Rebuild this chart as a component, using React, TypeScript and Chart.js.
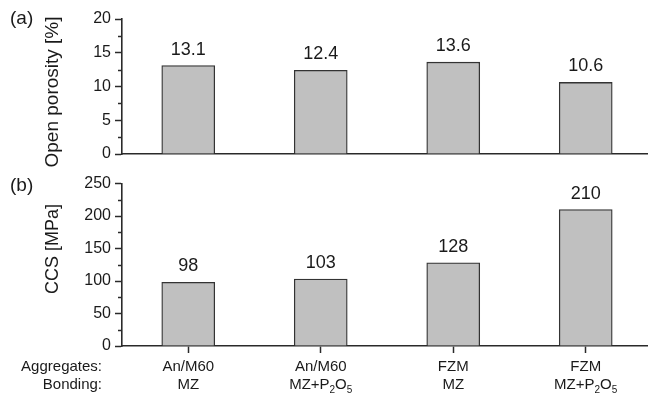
import React, { useEffect, useRef } from 'react';
import { Chart, registerables } from 'chart.js';

Chart.register(...registerables);

// ---- data ----
const aggregates = ['An/M60', 'An/M60', 'FZM', 'FZM'];
const bondings = ['MZ', 'MZ+P_2O_5', 'MZ', 'MZ+P_2O_5'];
const rowHeaders = ['Aggregates:', 'Bonding:'];
const porosity = [13.1, 12.4, 13.6, 10.6];
const ccs = [98, 103, 128, 210];
const porosityTicks = [0, 5, 10, 15, 20];
const ccsTicks = [0, 50, 100, 150, 200, 250];
const porosityTitle = 'Open porosity [%]';
const ccsTitle = 'CCS [MPa]';
const panelA = '(a)';
const panelB = '(b)';

const FONT = '"Liberation Sans", Arial, sans-serif';
const INK = '#1a1a1a';
const AXIS = '#2a2a2a';
const BAR_FILL = '#c0c0c0';
const BAR_EDGE = '#333333';

function minors(ticks: number[]) {
  const out: number[] = [];
  for (let i = 0; i < ticks.length - 1; i++) out.push((ticks[i] + ticks[i + 1]) / 2);
  return out;
}

function drawRich(ctx: CanvasRenderingContext2D, text: string, cx: number, baseline: number) {
  const segs: { t: string; sub: boolean }[] = [];
  const re = /_(.)/g;
  let last = 0;
  let m: RegExpExecArray | null;
  while ((m = re.exec(text))) {
    if (m.index > last) segs.push({ t: text.slice(last, m.index), sub: false });
    segs.push({ t: m[1], sub: true });
    last = m.index + 2;
  }
  if (last < text.length) segs.push({ t: text.slice(last), sub: false });
  const normal = `15px ${FONT}`;
  const small = `10px ${FONT}`;
  let total = 0;
  for (const s of segs) {
    ctx.font = s.sub ? small : normal;
    total += ctx.measureText(s.t).width;
  }
  let x = cx - total / 2;
  ctx.textAlign = 'left';
  ctx.textBaseline = 'alphabetic';
  for (const s of segs) {
    ctx.font = s.sub ? small : normal;
    ctx.fillText(s.t, x, s.sub ? baseline + 4 : baseline);
    x += ctx.measureText(s.t).width;
  }
}

function makeDecor(opts: {
  id: string;
  minorTicks: number[];
  fmt: (v: number) => string;
  letter: string;
  letterY: number;
  title: string;
  titleY: number;
  titleSize: number;
  xLabels: boolean;
  offsetY: number;
}) {
  return {
    id: opts.id,
    afterDraw(chart: any) {
      const ctx: CanvasRenderingContext2D = chart.ctx;
      const ys = chart.scales.y;
      ctx.save();
      // minor ticks
      ctx.strokeStyle = AXIS;
      ctx.lineWidth = 1.5;
      for (const v of opts.minorTicks) {
        const py = Math.round(ys.getPixelForValue(v)) + 0.5;
        ctx.beginPath();
        ctx.moveTo(ys.right - 4, py);
        ctx.lineTo(ys.right, py);
        ctx.stroke();
      }
      // value labels
      ctx.fillStyle = INK;
      ctx.font = `18px ${FONT}`;
      ctx.textAlign = 'center';
      ctx.textBaseline = 'alphabetic';
      const meta = chart.getDatasetMeta(0);
      const values = chart.data.datasets[0].data;
      meta.data.forEach((bar: any, i: number) => {
        ctx.fillText(opts.fmt(values[i].y), bar.x, bar.y - 11);
      });
      // panel letter
      ctx.font = `19px ${FONT}`;
      ctx.textAlign = 'left';
      ctx.textBaseline = 'middle';
      ctx.fillText(opts.letter, 10, opts.letterY - opts.offsetY);
      // axis title
      ctx.save();
      ctx.translate(53, opts.titleY - opts.offsetY);
      ctx.rotate(-Math.PI / 2);
      ctx.textAlign = 'center';
      ctx.textBaseline = 'middle';
      ctx.font = `${opts.titleSize}px ${FONT}`;
      ctx.fillText(opts.title, 0, 0);
      ctx.restore();
      // x category labels
      if (opts.xLabels) {
        const xs = chart.scales.x;
        const b1 = 371 - opts.offsetY;
        const b2 = 389 - opts.offsetY;
        ctx.font = `15px ${FONT}`;
        ctx.textAlign = 'right';
        ctx.textBaseline = 'alphabetic';
        ctx.fillText(rowHeaders[0], 102, b1);
        ctx.fillText(rowHeaders[1], 102, b2);
        aggregates.forEach((a, i) => {
          const px = xs.getPixelForValue(i);
          ctx.font = `15px ${FONT}`;
          ctx.textAlign = 'center';
          ctx.fillText(a, px, b1);
          drawRich(ctx, bondings[i], px, b2);
        });
      }
      ctx.restore();
    },
  };
}

function buildConfig(
  values: number[],
  ticks: number[],
  xHeight: number,
  topPad: number,
  drawXTicks: boolean,
  plugin: any
): any {
  const step = (ticks[1] - ticks[0]) / 2;
  return {
    type: 'bar',
    data: {
      datasets: [
        {
          data: values.map((v, i) => ({ x: i, y: v })),
          backgroundColor: BAR_FILL,
          borderColor: BAR_EDGE,
          borderWidth: 1.3,
          barThickness: 53,
        },
      ],
    },
    options: {
      responsive: false,
      animation: false,
      devicePixelRatio: 1,
      layout: { padding: { top: topPad, left: 0, right: 0, bottom: 0 } },
      plugins: { legend: { display: false }, tooltip: { enabled: false } },
      scales: {
        x: {
          type: 'linear',
          min: -0.5,
          max: 3.47,
          offset: false,
          afterBuildTicks: (s: any) => {
            s.ticks = aggregates.map((_, i) => ({ value: i }));
          },
          afterFit: (s: any) => {
            s.height = xHeight;
          },
          ticks: { display: false },
          grid: {
            display: drawXTicks,
            offset: false,
            drawOnChartArea: false,
            drawTicks: true,
            tickLength: 7,
            tickColor: AXIS,
            tickWidth: 1.5,
          },
          border: { display: true, color: AXIS, width: 1.6 },
        },
        y: {
          type: 'linear',
          min: ticks[0],
          max: ticks[ticks.length - 1],
          afterBuildTicks: (s: any) => {
            const all: { value: number }[] = [];
            for (let v = ticks[0]; v <= ticks[ticks.length - 1] + 1e-9; v += step) all.push({ value: v });
            s.ticks = all;
          },
          afterFit: (s: any) => {
            s.width = 122;
          },
          ticks: {
            color: INK,
            font: { family: FONT, size: 16 },
            padding: 4,
            callback: (v: number) => (ticks.includes(v) ? String(v) : ''),
          },
          grid: {
            display: true,
            drawOnChartArea: false,
            drawTicks: true,
            tickLength: 7,
            tickWidth: 1.5,
            tickColor: (c: any) => (c.tick && ticks.includes(c.tick.value) ? AXIS : 'rgba(0,0,0,0)'),
          },
          border: { display: true, color: AXIS, width: 1.6 },
        },
      },
    },
    plugins: [plugin],
  };
}

export default function App() {
  const refA = useRef<HTMLCanvasElement>(null);
  const refB = useRef<HTMLCanvasElement>(null);

  useEffect(() => {
    const decorA = makeDecor({
      id: 'decorA',
      minorTicks: minors(porosityTicks),
      fmt: (v) => v.toFixed(1),
      letter: panelA,
      letterY: 19,
      title: porosityTitle,
      titleY: 92,
      titleSize: 19,
      xLabels: false,
      offsetY: 0,
    });
    const decorB = makeDecor({
      id: 'decorB',
      minorTicks: minors(ccsTicks),
      fmt: (v) => String(Math.round(v)),
      letter: panelB,
      letterY: 186,
      title: ccsTitle,
      titleY: 249,
      titleSize: 18,
      xLabels: true,
      offsetY: 170,
    });
    const a = new Chart(refA.current!, buildConfig(porosity, porosityTicks, 16, 19, false, decorA));
    const b = new Chart(refB.current!, buildConfig(ccs, ccsTicks, 55, 11, true, decorB));
    return () => {
      a.destroy();
      b.destroy();
    };
  }, []);

  return (
    <div style={{ position: 'absolute', left: 0, top: 0, width: 648, height: 401, background: '#fff' }}>
      <canvas ref={refA} width={648} height={170} style={{ display: 'block', width: 648, height: 170 }} />
      <canvas ref={refB} width={648} height={231} style={{ display: 'block', width: 648, height: 231 }} />
    </div>
  );
}
